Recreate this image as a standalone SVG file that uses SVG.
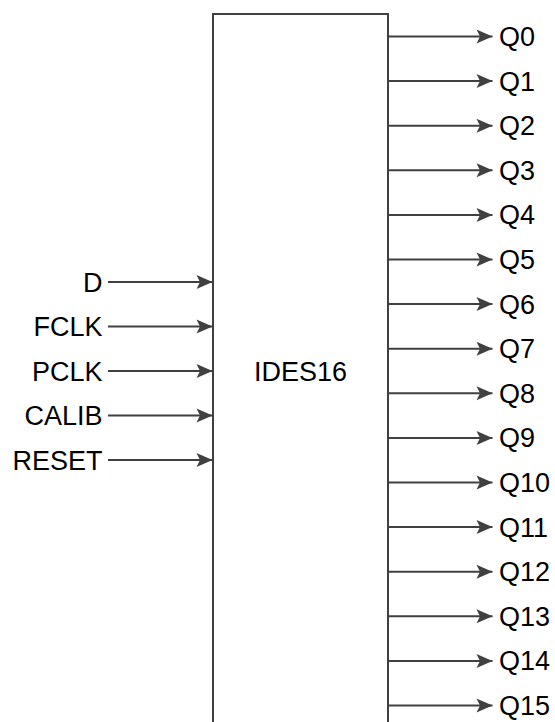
<svg xmlns="http://www.w3.org/2000/svg" width="555" height="722" viewBox="0 0 555 722">
<style>
.lbl{font-family:"Liberation Sans",Arial,sans-serif;font-size:27px;fill:#000}
.in{text-anchor:end}
.wire{stroke:#404040;stroke-width:2;fill:none;marker-end:url(#arr)}
.box{fill:#fff;stroke:#404040;stroke-width:2}
</style>
<defs>
<marker id="arr" markerUnits="userSpaceOnUse" markerWidth="18" markerHeight="16" refX="16" refY="8" orient="auto" overflow="visible">
<path d="M0,1 L16,8 L0,15 L3.5,8 Z" fill="#404040"/>
</marker>
</defs>
<g id="ides16">
<rect class="box" x="213" y="14" width="175" height="720"/>
<text class="lbl" x="300.5" y="380.5" text-anchor="middle">IDES16</text>
</g>
<g id="connectors">
<line class="wire" x1="108" y1="282" x2="212.5" y2="282"/>
<line class="wire" x1="108" y1="326.5" x2="212.5" y2="326.5"/>
<line class="wire" x1="108" y1="371" x2="212.5" y2="371"/>
<line class="wire" x1="108" y1="415.5" x2="212.5" y2="415.5"/>
<line class="wire" x1="108" y1="460" x2="212.5" y2="460"/>
<line class="wire" x1="388" y1="36.5" x2="492.5" y2="36.5"/>
<line class="wire" x1="388" y1="81.1" x2="492.5" y2="81.1"/>
<line class="wire" x1="388" y1="125.7" x2="492.5" y2="125.7"/>
<line class="wire" x1="388" y1="170.3" x2="492.5" y2="170.3"/>
<line class="wire" x1="388" y1="214.9" x2="492.5" y2="214.9"/>
<line class="wire" x1="388" y1="259.5" x2="492.5" y2="259.5"/>
<line class="wire" x1="388" y1="304.1" x2="492.5" y2="304.1"/>
<line class="wire" x1="388" y1="348.7" x2="492.5" y2="348.7"/>
<line class="wire" x1="388" y1="393.3" x2="492.5" y2="393.3"/>
<line class="wire" x1="388" y1="437.9" x2="492.5" y2="437.9"/>
<line class="wire" x1="388" y1="482.5" x2="492.5" y2="482.5"/>
<line class="wire" x1="388" y1="527.1" x2="492.5" y2="527.1"/>
<line class="wire" x1="388" y1="571.7" x2="492.5" y2="571.7"/>
<line class="wire" x1="388" y1="616.3" x2="492.5" y2="616.3"/>
<line class="wire" x1="388" y1="660.9" x2="492.5" y2="660.9"/>
<line class="wire" x1="388" y1="705.5" x2="492.5" y2="705.5"/>
</g>
<g id="in-D"><text class="lbl in" x="102.5" y="291.5">D</text></g>
<g id="in-FCLK"><text class="lbl in" x="102.5" y="336">FCLK</text></g>
<g id="in-PCLK"><text class="lbl in" x="102.5" y="380.5">PCLK</text></g>
<g id="in-CALIB"><text class="lbl in" x="102.5" y="425">CALIB</text></g>
<g id="in-RESET"><text class="lbl in" x="102.5" y="469.5">RESET</text></g>
<g id="out-Q0"><text class="lbl" x="499" y="46">Q0</text></g>
<g id="out-Q1"><text class="lbl" x="499" y="90.6">Q1</text></g>
<g id="out-Q2"><text class="lbl" x="499" y="135.2">Q2</text></g>
<g id="out-Q3"><text class="lbl" x="499" y="179.8">Q3</text></g>
<g id="out-Q4"><text class="lbl" x="499" y="224.4">Q4</text></g>
<g id="out-Q5"><text class="lbl" x="499" y="269">Q5</text></g>
<g id="out-Q6"><text class="lbl" x="499" y="313.6">Q6</text></g>
<g id="out-Q7"><text class="lbl" x="499" y="358.2">Q7</text></g>
<g id="out-Q8"><text class="lbl" x="499" y="402.8">Q8</text></g>
<g id="out-Q9"><text class="lbl" x="499" y="447.4">Q9</text></g>
<g id="out-Q10"><text class="lbl" x="499" y="492">Q10</text></g>
<g id="out-Q11"><text class="lbl" x="499" y="536.6">Q11</text></g>
<g id="out-Q12"><text class="lbl" x="499" y="581.2">Q12</text></g>
<g id="out-Q13"><text class="lbl" x="499" y="625.8">Q13</text></g>
<g id="out-Q14"><text class="lbl" x="499" y="670.4">Q14</text></g>
<g id="out-Q15"><text class="lbl" x="499" y="715">Q15</text></g>
</svg>
